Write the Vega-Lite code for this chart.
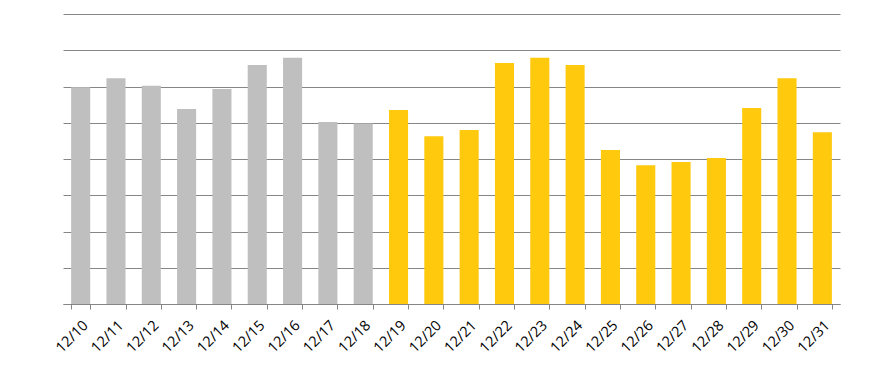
{
  "$schema": "https://vega.github.io/schema/vega-lite/v6.json",
  "width": 777,
  "height": 290,
  "autosize": {"type": "none"},
  "padding": {"left": 63, "top": 14, "right": 51, "bottom": 64},
  "background": "white",
  "data": {
    "values": [
      {"date": "12/10", "value": 5.98, "period": "before"},
      {"date": "12/11", "value": 6.23, "period": "before"},
      {"date": "12/12", "value": 6.02, "period": "before"},
      {"date": "12/13", "value": 5.38, "period": "before"},
      {"date": "12/14", "value": 5.93, "period": "before"},
      {"date": "12/15", "value": 6.59, "period": "before"},
      {"date": "12/16", "value": 6.79, "period": "before"},
      {"date": "12/17", "value": 5.02, "period": "before"},
      {"date": "12/18", "value": 4.98, "period": "before"},
      {"date": "12/19", "value": 5.35, "period": "after"},
      {"date": "12/20", "value": 4.63, "period": "after"},
      {"date": "12/21", "value": 4.80, "period": "after"},
      {"date": "12/22", "value": 6.65, "period": "after"},
      {"date": "12/23", "value": 6.79, "period": "after"},
      {"date": "12/24", "value": 6.59, "period": "after"},
      {"date": "12/25", "value": 4.25, "period": "after"},
      {"date": "12/26", "value": 3.83, "period": "after"},
      {"date": "12/27", "value": 3.92, "period": "after"},
      {"date": "12/28", "value": 4.03, "period": "after"},
      {"date": "12/29", "value": 5.41, "period": "after"},
      {"date": "12/30", "value": 6.23, "period": "after"},
      {"date": "12/31", "value": 4.74, "period": "after"}
    ]
  },
  "mark": {"type": "bar"},
  "encoding": {
    "x": {
      "field": "date",
      "type": "ordinal",
      "sort": null,
      "scale": {"paddingInner": 0.46, "paddingOuter": 0.23},
      "axis": {
        "title": null,
        "labelAngle": -45,
        "labelFont": "Open Sans",
        "labelFontSize": 14.5,
        "labelColor": "#000000",
        "labelPadding": 9,
        "tickBand": "extent",
        "tickSize": 5,
        "tickColor": "#868686",
        "domainColor": "#868686",
        "grid": false
      }
    },
    "y": {
      "field": "value",
      "type": "quantitative",
      "scale": {"domain": [0, 8], "nice": false},
      "axis": {
        "title": null,
        "labels": false,
        "ticks": false,
        "domain": false,
        "values": [0, 1, 2, 3, 4, 5, 6, 7, 8],
        "grid": true,
        "gridColor": "#868686",
        "gridWidth": 1
      }
    },
    "color": {
      "field": "period",
      "type": "nominal",
      "scale": {"domain": ["before", "after"], "range": ["#BFBFBF", "#FFC90E"]},
      "legend": null
    }
  },
  "config": {
    "view": {"stroke": null}
  }
}
